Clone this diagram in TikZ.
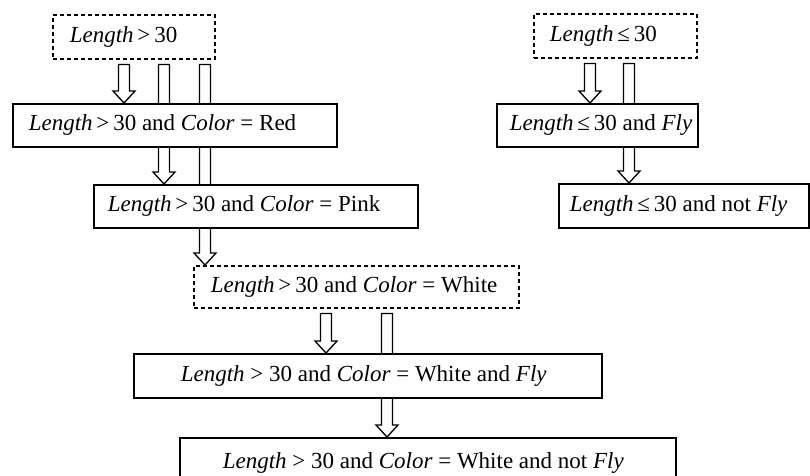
\documentclass[tikz,border=0pt]{standalone}
\usepackage{fontspec}
\setmainfont{Liberation Serif}
\usetikzlibrary{calc}
\pgfdeclarelayer{background}
\pgfsetlayers{background,main}

% box content: fixed width, text set flush left after a pad
\newcommand\boxtxt[3]{\makebox[#1pt][l]{\hspace*{#2pt}#3}}
\newcommand\Len{\textit{Length}}
\newcommand\Col{\textit{Color}}
\newcommand\Fly{\textit{Fly}}

% hollow block arrow at horizontal position #1 from node #2 down to node #3
\newcommand\blockarrow[3]{%
  \draw[blockline] let \p1=(#2.south), \p2=(#3.north) in
    (#1pt-5.5pt,\y1-5pt) -- (#1pt-5.5pt,\y2+12pt) -- (#1pt-11pt,\y2+12pt)
    -- (#1pt,\y2) -- (#1pt+11pt,\y2+12pt) -- (#1pt+5.5pt,\y2+12pt)
    -- (#1pt+5.5pt,\y1-5pt) -- cycle;}

\begin{document}
\begin{tikzpicture}[x=1pt,y=-1pt,
  cond/.style={draw, fill=white, line width=1.5pt, anchor=north west,
    inner sep=0pt, font=\fontsize{23}{27}\selectfont},
  opencond/.style={cond, dash pattern=on 4pt off 3pt},
  blockline/.style={draw, fill=white, line width=1.3pt, line join=miter}]
\useasboundingbox (0,0) rectangle (810,475);

% left branch
\node[opencond, minimum height=44pt] (A) at (52,14)
  {\boxtxt{162}{17}{\Len\,>\,30}};
\node[cond, minimum height=43pt] (B) at (12,103)
  {\boxtxt{324}{16}{\Len\,>\,30 and \Col{} = Red}};
\node[cond, minimum height=43pt] (C) at (93,184)
  {\boxtxt{324}{14}{\Len\,>\,30 and \Col{} = Pink}};
\node[opencond, minimum height=42pt] (D) at (193,265)
  {\boxtxt{325}{17}{\Len\,>\,30 and \Col{} = White}};
\node[cond, minimum height=44pt] (E) at (133,353)
  {\boxtxt{468}{47}{\Len{} > 30 and \Col{} = White and \Fly}};
\node[cond, minimum height=50pt] (F) at (179,437)
  {\boxtxt{496}{43}{\Len{} > 30 and \Col{} = White and not \Fly}};

% right branch
\node[opencond, minimum height=44pt] (G) at (533,13)
  {\boxtxt{163}{16}{\Len\,≤\,30}};
\node[cond, minimum height=43pt] (H) at (496,103)
  {\boxtxt{201}{13}{\Len\,≤\,30 and \Fly}};
\node[cond, minimum height=44pt] (I) at (558,183)
  {\boxtxt{250}{11}{\Len\,≤\,30 and not \Fly}};

\begin{pgfonlayer}{background}
  \blockarrow{124}{A}{B}
  \blockarrow{164}{A}{C}
  \blockarrow{205}{A}{D}
  \blockarrow{326}{D}{E}
  \blockarrow{387}{D}{F}
  \blockarrow{590}{G}{H}
  \blockarrow{629}{G}{I}
\end{pgfonlayer}
\end{tikzpicture}
\end{document}
